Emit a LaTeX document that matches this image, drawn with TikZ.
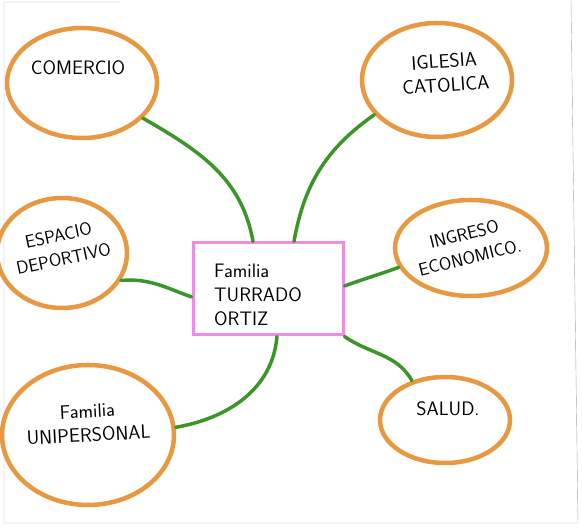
\documentclass[tikz,border=0pt]{standalone}
\usepackage{tikz}
\usetikzlibrary{shapes.geometric}
\definecolor{marker}{RGB}{232,152,64}
\definecolor{leaf}{RGB}{58,150,38}
\definecolor{rosa}{RGB}{240,140,232}

\begin{document}
\begin{tikzpicture}[x=1pt,y=1pt,
    bubble/.style={ellipse,draw=marker,line width=4.5pt,inner sep=0pt},
    hand/.style={font=\sffamily\fontsize{19.5}{24}\selectfont,align=center,inner sep=1pt},
    link/.style={draw=leaf,line width=3.5pt,line cap=round}]
      \useasboundingbox(0,0)rectangle(582,529);
      \draw[gray!70,thin](120,527)--(4,527)--(4,6)--(578,6)--(571,529);
      \node[bubble,minimum width=150pt,minimum height=110pt](comercio)at(82,446){};
      \node[bubble,minimum width=150pt,minimum height=114pt](iglesia)at(437,449){};
      \node[bubble,minimum width=130pt,minimum height=110pt](espacio)at(62,276){};
      \node[bubble,minimum width=152pt,minimum height=96pt](ingreso)at(471,281){};
      \node[bubble,minimum width=172pt,minimum height=140pt](unipersonal)at(88,94){};
      \node[bubble,minimum width=130pt,minimum height=86pt](salud)at(445,109){};
      \node[draw=rosa,line width=3pt,minimum width=150pt,minimum height=92pt](familia)at(268,240){};
      \node[hand](comercioT)at(78,461){COMERCIO};
      \node[hand,rotate=4](iglesiaT)at(445,456){IGLESIA\\CATOLICA};
      \node[hand,rotate=12,font=\sffamily\fontsize{18}{24}\selectfont](espacioT)at(61,282){ESPACIO\\DEPORTIVO};
      \node[hand,rotate=14,font=\sffamily\fontsize{18}{24}\selectfont](ingresoT)at(467,283){INGRESO\\ECONOMICO.};
      \node[hand,align=left](familiaT)at(258,234){Familia\\TURRADO\\ORTIZ};
      \node[hand,rotate=3](unipersonalT)at(88,106){Familia\\UNIPERSONAL};
      \node[hand](saludT)at(448,120){SALUD.};
      \draw[link](comercio.-30)to[out=-30,in=100]([xshift=-15pt]familia.north);
      \draw[link](iglesia.-151)to[out=-145,in=80]([xshift=26pt]familia.north);
      \draw[link](espacio.-25)to[out=5,in=160]([yshift=-8pt]familia.west);
      \draw[link](ingreso.195)to[out=-160,in=20]([yshift=3pt]familia.east);
      \draw[link](unipersonal.5)to[out=10,in=-95]([xshift=9pt]familia.south);
      \draw[link](salud.130)to[out=120,in=-35](familia.south east);
    \end{tikzpicture}
\end{document}
